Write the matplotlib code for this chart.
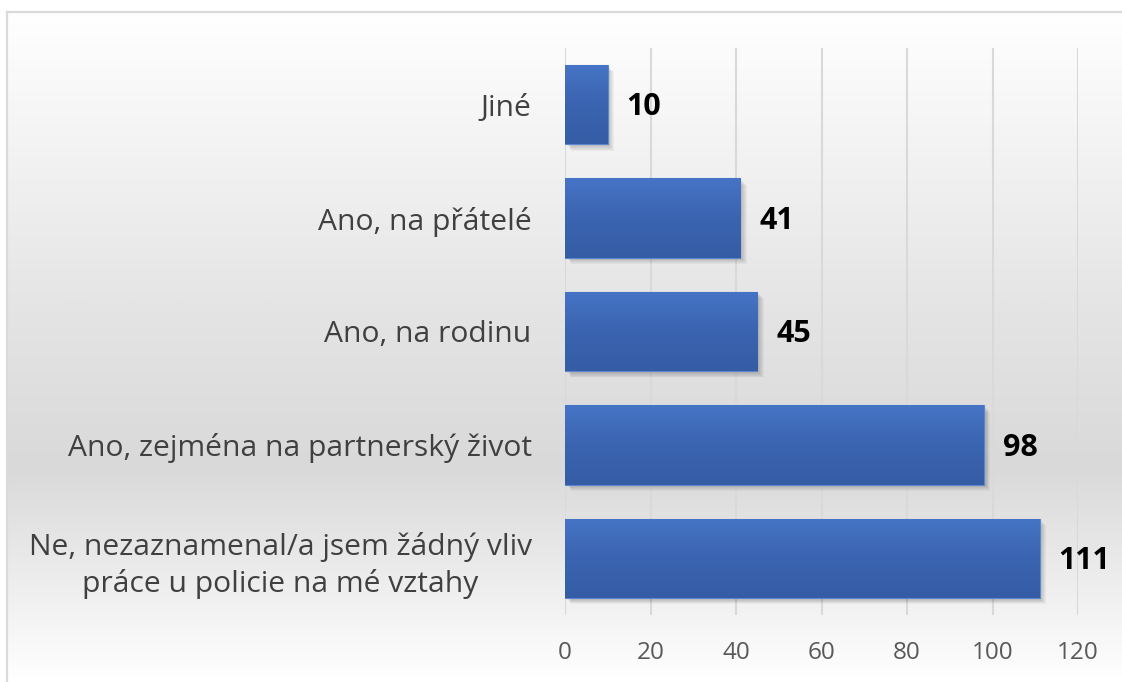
import numpy as np
import matplotlib.pyplot as plt
import matplotlib.transforms as mtransforms
from matplotlib.colors import LinearSegmentedColormap
from matplotlib.patches import Rectangle

categories = [
    "Ne, nezaznamenal/a jsem žádný vliv\npráce u policie na mé vztahy",
    "Ano, zejména na partnerský život",
    "Ano, na rodinu",
    "Ano, na přátelé",
    "Jiné",
]
values = [111, 98, 45, 41, 10]
x_ticks = [0, 20, 40, 60, 80, 100, 120]

W, H = 1122, 682
fig = plt.figure(figsize=(W / 100, H / 100), dpi=100)
fig.patch.set_facecolor("white")

# chart area background with soft grey band
bg = fig.add_axes([7 / W, 0, 1 - 7 / W, 1 - 12 / H])
bg_cmap = LinearSegmentedColormap.from_list(
    "bg", [(0, "#ffffff"), (0.45, "#e4e4e4"), (0.68, "#d9d9d9"), (1.0, "#ffffff")])
grad = np.linspace(0, 1, 256).reshape(-1, 1)
bg.imshow(grad, aspect="auto", cmap=bg_cmap, extent=[0, 1, 0, 1], origin="upper")
bg.set_xlim(0, 1)
bg.set_ylim(0, 1)
for side in ["right", "bottom"]:
    bg.spines[side].set_visible(False)
for side in ["left", "top"]:
    bg.spines[side].set_color("#d9d9d9")
    bg.spines[side].set_linewidth(1.6)
bg.set_xticks([])
bg.set_yticks([])

ax = fig.add_axes([565 / W, 1 - 615 / H, (1078 - 565) / W, (615 - 48) / H])
ax.patch.set_alpha(0)

y = np.arange(len(categories))
bar_h = 0.7
bars = ax.barh(y, values, height=bar_h, color="#4472c4", edgecolor="#5b86d0",
               linewidth=0.8, zorder=3)

# soft shadow bottom-right
for b in bars:
    for k in range(1, 8):
        off = mtransforms.offset_copy(ax.transData, fig=fig, x=k * 0.9, y=-k * 0.9, units="dots")
        sh = Rectangle((b.get_x(), b.get_y()), b.get_width(), b.get_height(),
                       transform=off, facecolor="black", edgecolor="none",
                       alpha=0.035, zorder=2)
        ax.add_patch(sh)

# vertical gradient inside each bar, light at top
bar_cmap = LinearSegmentedColormap.from_list("bar", ["#4674c6", "#3b64b0", "#355da6"])
for b in bars:
    x0, y0, w, h = b.get_x(), b.get_y(), b.get_width(), b.get_height()
    im = ax.imshow(np.linspace(1, 0, 64).reshape(-1, 1), cmap=bar_cmap, aspect="auto",
                   extent=[x0, x0 + w, y0, y0 + h], origin="lower", zorder=3.5)
    im.set_clip_path(b)

for yi, v in zip(y, values):
    ax.annotate(str(v), (v, yi), xytext=(13.5, -2), textcoords="offset points",
                ha="left", va="center", fontsize=22, fontweight="bold",
                family="Open Sans", color="black", zorder=5)

ax.set_xlim(0, 120)
ax.set_ylim(-0.5, len(categories) - 0.5)
ax.set_xticks(x_ticks)
ax.set_yticks(y)
ax.set_yticklabels(categories, family="Open Sans", fontsize=21.6, color="#404040", linespacing=1.3)
for lab in ax.get_yticklabels():
    lab.set_multialignment("center")
ax.set_xticklabels([str(t) for t in x_ticks], family="Open Sans", fontsize=17.5, color="#595959")
ax.tick_params(axis="x", length=0, pad=18.5)
ax.tick_params(axis="y", length=0, pad=24)
ax.grid(axis="x", color="#d9d9d9", linewidth=1.5, zorder=0)
ax.set_axisbelow(True)
for s in ax.spines.values():
    s.set_visible(False)

fig.savefig("out.png", dpi=100)
